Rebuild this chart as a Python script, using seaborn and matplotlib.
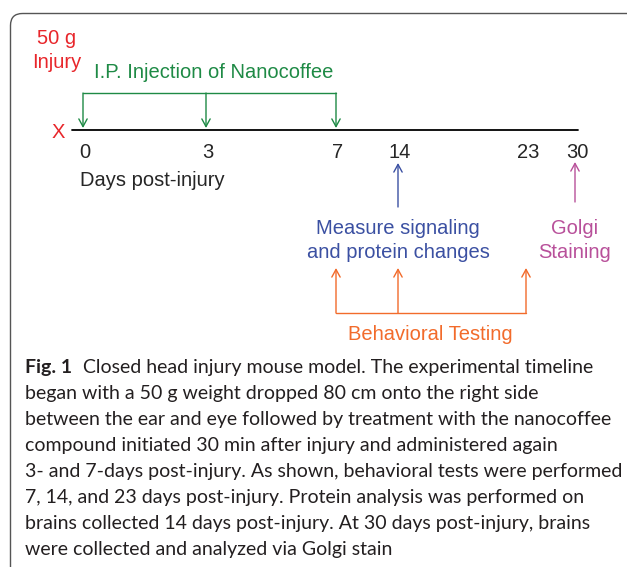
import matplotlib
matplotlib.use("Agg")
import matplotlib.pyplot as plt
from matplotlib.patches import FancyBboxPatch
import seaborn as sns
import pandas as pd

sns.set_style("white")
plt.rcParams['font.family'] = ['Liberation Sans', 'DejaVu Sans']

# ---- data ----
days = [0, 3, 7, 14, 23, 30]
injection_days = [0, 3, 7]
behavior_days = [7, 14, 23]
protein_day = 14
golgi_day = 30
injury_label = ["50 g", "Injury"]
injection_label = "I.P. Injection of Nanocoffee"
protein_label = ["Measure signaling", "and protein changes"]
golgi_label = ["Golgi", "Staining"]
behavior_label = "Behavioral Testing"
axis_label = "Days post-injury"
caption_bold = "Fig. 1"
caption_lines = [
    "Closed head injury mouse model. The experimental timeline",
    "began with a 50 g weight dropped 80 cm onto the right side",
    "between the ear and eye followed by treatment with the nanocoffee",
    "compound initiated 30 min after injury and administered again",
    "3- and 7-days post-injury. As shown, behavioral tests were performed",
    "7, 14, and 23 days post-injury. Protein analysis was performed on",
    "brains collected 14 days post-injury. At 30 days post-injury, brains",
    "were collected and analyzed via Golgi stain",
]

# ---- layout (diagram positions, not to scale) ----
day_pos = dict(zip(days, [83, 206, 336, 398, 526, 575]))
RED, GREEN, BLUE, PURPLE, ORANGE = "#e8262b", "#1e8a45", "#3b50a2", "#b8509a", "#f26b2b"
FS = 14.5
DY = 2  # small vertical text offset

fig = plt.figure(figsize=(6.27, 5.67), dpi=100)
ax = fig.add_axes([0, 0, 1, 1])
ax.set_xlim(0, 627)
ax.set_ylim(567, 0)
ax.axis("off")

# frame
ax.add_patch(FancyBboxPatch((10.5, 13.5), 700, 700, boxstyle="round,pad=0,rounding_size=12",
                            fill=False, ec="#555555", lw=1.0))

# timeline
tl = pd.DataFrame({"x": [72, 578], "y": [130, 130]})
sns.lineplot(data=tl, x="x", y="y", color="black", lw=1.3, ax=ax, legend=False)
ax.text(58, 131 + DY, "X", color=RED, fontsize=FS, ha="center", va="center")
for d in days:
    ax.text(day_pos[d] + 2, 150 + DY, str(d), fontsize=FS, ha="center", va="center")
ax.text(80, 178 + DY, axis_label, fontsize=FS, ha="left", va="center")

# injury
ax.text(57, 37 + DY, injury_label[0], color=RED, fontsize=FS, ha="center", va="center")
ax.text(57, 61 + DY, injury_label[1], color=RED, fontsize=FS, ha="center", va="center")

# injections
arrow_kw = dict(arrowstyle="->,head_length=0.55,head_width=0.3", lw=1.0, shrinkA=0, shrinkB=0)
ax.text(94, 71 + DY, injection_label, color=GREEN, fontsize=FS, ha="left", va="center")
xs = [day_pos[d] for d in injection_days]
ax.plot([min(xs), max(xs)], [93, 93], color=GREEN, lw=1.0)
for x in xs:
    ax.annotate("", xy=(x, 128), xytext=(x, 93), arrowprops=dict(color=GREEN, **arrow_kw))

# protein
px = day_pos[protein_day]
ax.annotate("", xy=(px, 163), xytext=(px, 207), arrowprops=dict(color=BLUE, **arrow_kw))
ax.text(px, 227 + DY, protein_label[0], color=BLUE, fontsize=FS, ha="center", va="center")
ax.text(px, 250 + DY, protein_label[1], color=BLUE, fontsize=FS, ha="center", va="center")

# golgi
gx = day_pos[golgi_day]
ax.annotate("", xy=(gx, 162), xytext=(gx, 202), arrowprops=dict(color=PURPLE, **arrow_kw))
ax.text(gx, 227 + DY, golgi_label[0], color=PURPLE, fontsize=FS, ha="center", va="center")
ax.text(gx, 250 + DY, golgi_label[1], color=PURPLE, fontsize=FS, ha="center", va="center")

# behavioral
bxs = [day_pos[d] for d in behavior_days]
ax.plot([min(bxs), max(bxs)], [313, 313], color=ORANGE, lw=1.0)
for x in bxs:
    ax.annotate("", xy=(x, 268), xytext=(x, 313), arrowprops=dict(color=ORANGE, **arrow_kw))
ax.text(430, 333 + DY, behavior_label, color=ORANGE, fontsize=FS, ha="center", va="center")

# caption
cap_font = ['Lato', 'DejaVu Sans']
CFS = 14
y0, dy = 367, 26.1
bold = ax.text(25, y0, caption_bold, fontsize=CFS, fontweight="bold", ha="left", va="center",
               family=cap_font, color="#231f20")
fig.canvas.draw()
bb = bold.get_window_extent().transformed(ax.transData.inverted())
ax.text(bb.x1 + 11, y0, caption_lines[0], fontsize=CFS, ha="left", va="center", family=cap_font,
        color="#231f20")
for i, line in enumerate(caption_lines[1:], start=1):
    ax.text(25, y0 + i * dy, line, fontsize=CFS, ha="left", va="center", family=cap_font,
            color="#231f20")

fig.savefig("out.png", dpi=100)
